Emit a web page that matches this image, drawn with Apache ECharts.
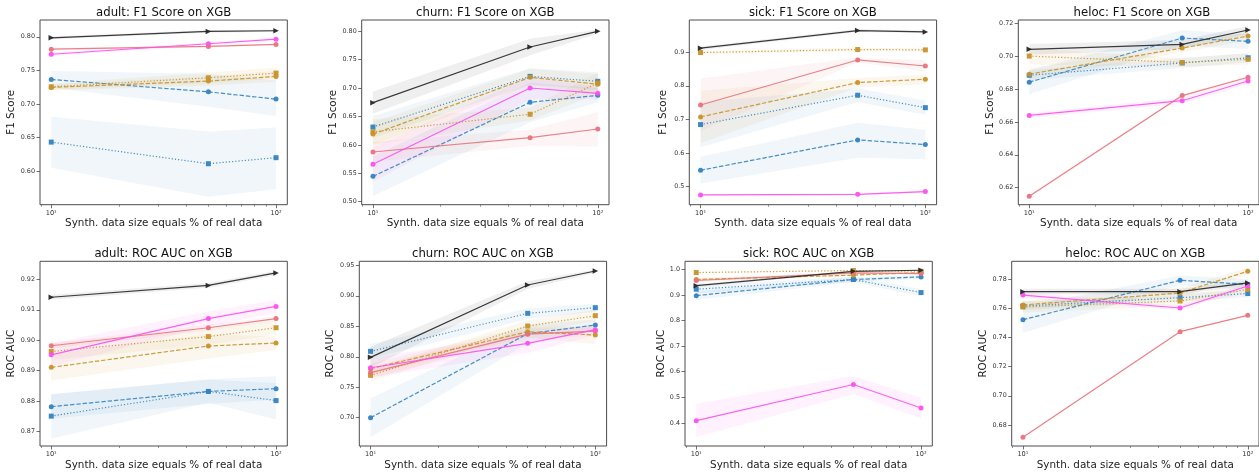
<!DOCTYPE html>
<html><head><meta charset="utf-8">
<script src="https://cdn.jsdelivr.net/npm/echarts@6/dist/echarts.min.js"></script>
<style>html,body{margin:0;padding:0;background:#fff}#c{width:1259px;height:472px}</style>
</head><body><div id="c"></div>
<script>
// ---------------- DATA ----------------
const xValues = [10, 50, 100];
const xMajorTicks = [10, 100];
const xTickLabels = ['10\u00b9', '10\u00b2'];
const xMinorTicks = [9, 20, 30, 40, 50, 60, 70, 80, 90];
// series order: black(triangle), red(solid circle), magenta(solid circle),
// orange dashed(circle), orange dotted(square), blue dashed(circle), blue dotted(square)
const seriesKeys = ['black', 'red', 'magenta', 'orangeDash', 'orangeDot', 'blueDash', 'blueDot'];
const titles = ['adult: F1 Score on XGB', 'churn: F1 Score on XGB', 'sick: F1 Score on XGB', 'heloc: F1 Score on XGB',
                'adult: ROC AUC on XGB', 'churn: ROC AUC on XGB', 'sick: ROC AUC on XGB', 'heloc: ROC AUC on XGB'];
const yNames = ['F1 Score', 'F1 Score', 'F1 Score', 'F1 Score', 'ROC AUC', 'ROC AUC', 'ROC AUC', 'ROC AUC'];
const xName = 'Synth. data size equals % of real data';

const adultF1Ticks = [0.60, 0.65, 0.70, 0.75, 0.80];
const adultF1Mean = [[0.7985,0.808,0.809],[0.7816,0.7856,0.7886],[0.774,0.7896,0.7965],[0.7246,0.734,0.741],[0.7256,0.739,0.746],[0.7365,0.718,0.7072],[0.6432,0.611,0.620]];
const adultF1Lo   = [[0.7965,0.806,0.8075],[0.7795,0.784,0.787],[0.771,0.787,0.794],[0.720,0.727,0.733],[0.721,0.731,0.738],[0.724,0.696,0.682],[0.605,0.562,0.573]];
const adultF1Hi   = [[0.8005,0.810,0.8105],[0.7835,0.787,0.790],[0.777,0.792,0.799],[0.729,0.741,0.749],[0.730,0.747,0.754],[0.749,0.745,0.735],[0.681,0.659,0.665]];

const churnF1Ticks = [0.50, 0.55, 0.60, 0.65, 0.70, 0.75, 0.80];
const churnF1Mean = [[0.6744,0.7724,0.800],[0.5875,0.6127,0.628],[0.5658,0.7002,0.6908],[0.619,0.719,0.707],[0.623,0.654,0.709],[0.5446,0.675,0.6873],[0.6315,0.7207,0.712]];
const churnF1Lo   = [[0.655,0.758,0.796],[0.570,0.598,0.597],[0.535,0.680,0.680],[0.600,0.705,0.690],[0.600,0.643,0.690],[0.510,0.640,0.675],[0.612,0.706,0.697]];
const churnF1Hi   = [[0.694,0.787,0.803],[0.605,0.627,0.658],[0.596,0.720,0.702],[0.640,0.734,0.725],[0.645,0.666,0.727],[0.580,0.710,0.700],[0.651,0.735,0.728]];

const sickF1Ticks = [0.5, 0.6, 0.7, 0.8, 0.9];
const sickF1Mean = [[0.912,0.9645,0.9605],[0.743,0.877,0.859],[0.475,0.477,0.485],[0.7074,0.8097,0.8196],[0.899,0.908,0.907],[0.5486,0.639,0.625],[0.6846,0.772,0.735]];
const sickF1Lo   = [[0.907,0.960,0.957],[0.665,0.870,0.843],[0.472,0.474,0.481],[0.630,0.795,0.805],[0.894,0.903,0.902],[0.509,0.586,0.581],[0.617,0.752,0.714]];
const sickF1Hi   = [[0.917,0.969,0.964],[0.822,0.885,0.876],[0.478,0.480,0.489],[0.785,0.823,0.834],[0.904,0.913,0.912],[0.589,0.690,0.669],[0.752,0.792,0.756]];

const helocF1Ticks = [0.62, 0.64, 0.66, 0.68, 0.70, 0.72];
const helocF1Mean = [[0.7043,0.7073,0.7161],[0.6147,0.6761,0.6873],[0.664,0.673,0.685],[0.6892,0.7051,0.7124],[0.7002,0.6963,0.6982],[0.6843,0.7112,0.7092],[0.6885,0.696,0.6992]];
const helocF1Lo   = [[0.701,0.7045,0.7135],[0.614,0.6752,0.6865],[0.6625,0.671,0.683],[0.686,0.7025,0.7095],[0.695,0.6935,0.695],[0.677,0.7065,0.7045],[0.6855,0.693,0.6965]];
const helocF1Hi   = [[0.7075,0.710,0.7185],[0.6154,0.677,0.688],[0.6655,0.675,0.687],[0.6925,0.7075,0.715],[0.705,0.699,0.702],[0.6915,0.716,0.7135],[0.6915,0.699,0.702]];

const adultRocTicks = [0.87, 0.88, 0.89, 0.90, 0.91, 0.92];
const adultRocMean = [[0.9141,0.918,0.9221],[0.8982,0.9041,0.9071],[0.8952,0.9071,0.9111],[0.8911,0.8981,0.8991],[0.8963,0.9012,0.9041],[0.8782,0.8832,0.8841],[0.8751,0.8832,0.8802]];
const adultRocLo   = [[0.9133,0.9172,0.9214],[0.8972,0.9031,0.9062],[0.8915,0.9045,0.909],[0.8868,0.894,0.8968],[0.8935,0.8985,0.9018],[0.8742,0.8792,0.8805],[0.8678,0.8795,0.874]];
const adultRocHi   = [[0.9149,0.9188,0.9228],[0.8992,0.9051,0.908],[0.899,0.9095,0.9132],[0.8954,0.902,0.9012],[0.899,0.904,0.9064],[0.8822,0.8872,0.8882],[0.8824,0.887,0.886]];

const churnRocTicks = [0.70, 0.75, 0.80, 0.85, 0.90, 0.95];
const churnRocMean = [[0.799,0.9177,0.9407],[0.774,0.837,0.842],[0.782,0.822,0.8444],[0.7804,0.8411,0.8357],[0.7695,0.8504,0.8674],[0.700,0.8379,0.852],[0.8089,0.8712,0.8805]];
const churnRocLo   = [[0.782,0.911,0.938],[0.765,0.828,0.835],[0.766,0.806,0.835],[0.772,0.832,0.821],[0.760,0.840,0.858],[0.668,0.822,0.843],[0.797,0.862,0.874]];
const churnRocHi   = [[0.816,0.924,0.943],[0.783,0.846,0.849],[0.798,0.838,0.854],[0.789,0.850,0.850],[0.779,0.860,0.877],[0.732,0.853,0.861],[0.821,0.879,0.887]];

const sickRocTicks = [0.4, 0.5, 0.6, 0.7, 0.8, 0.9, 1.0];
const sickRocMean = [[0.936,0.992,0.996],[0.956,0.986,0.983],[0.409,0.550,0.4585],[0.960,0.977,0.987],[0.987,0.995,0.992],[0.897,0.960,0.970],[0.922,0.960,0.909]];
const sickRocLo   = [[0.930,0.989,0.994],[0.949,0.982,0.979],[0.344,0.513,0.417],[0.953,0.973,0.984],[0.984,0.993,0.990],[0.880,0.950,0.962],[0.905,0.950,0.895]];
const sickRocHi   = [[0.942,0.995,0.998],[0.963,0.990,0.987],[0.475,0.583,0.498],[0.967,0.981,0.990],[0.990,0.997,0.994],[0.914,0.970,0.978],[0.938,0.970,0.923]];

const helocRocTicks = [0.68, 0.70, 0.72, 0.74, 0.76, 0.78];
const helocRocMean = [[0.7713,0.7713,0.7773],[0.6716,0.7439,0.7551],[0.769,0.7601,0.7752],[0.7622,0.7704,0.7853],[0.7608,0.7649,0.7729],[0.7521,0.7791,0.7763],[0.7615,0.7672,0.770]];
const helocRocLo   = [[0.7693,0.7693,0.7755],[0.6712,0.7435,0.7547],[0.767,0.7585,0.7735],[0.7595,0.767,0.783],[0.757,0.7615,0.770],[0.743,0.7758,0.7725],[0.7585,0.7645,0.7675]];
const helocRocHi   = [[0.7733,0.7733,0.779],[0.672,0.7443,0.7555],[0.771,0.7617,0.777],[0.765,0.7738,0.7876],[0.7646,0.7683,0.7758],[0.7612,0.7824,0.780],[0.7645,0.770,0.7725]];

// ---------------- STYLE / LAYOUT ----------------
const FONT = 'DejaVu Sans';
const styles = [
  {color:'#262626', symbol:'triangle', rotate:-90, size:5.5, dash:'solid'},
  {color:'#e8737b', symbol:'circle', rotate:0, size:5, dash:'solid'},
  {color:'#fb50ef', symbol:'circle', rotate:0, size:5, dash:'solid'},
  {color:'#c7922a', symbol:'circle', rotate:0, size:5, dash:[4.4,1.9]},
  {color:'#c7922a', symbol:'rect', rotate:0, size:5, dash:[1.2,2]},
  {color:'#3483c0', symbol:'circle', rotate:0, size:5, dash:[4.4,1.9]},
  {color:'#3483c0', symbol:'rect', rotate:0, size:5, dash:[1.2,2]}
];
const drawOrder = [6, 5, 4, 3, 1, 2, 0];

const panels = [
  {mean:adultF1Mean, lo:adultF1Lo, hi:adultF1Hi, ticks:adultF1Ticks, dec:2, yMin:0.550, yMax:0.825, left:40, top:20, gap:24},
  {mean:churnF1Mean, lo:churnF1Lo, hi:churnF1Hi, ticks:churnF1Ticks, dec:2, yMin:0.4947, yMax:0.820, left:361.7, top:20, gap:23},
  {mean:sickF1Mean, lo:sickF1Lo, hi:sickF1Hi, ticks:sickF1Ticks, dec:1, yMin:0.446, yMax:0.996, left:689.3, top:20, gap:21},
  {mean:helocF1Mean, lo:helocF1Lo, hi:helocF1Hi, ticks:helocF1Ticks, dec:2, yMin:0.6096, yMax:0.7222, left:1018.3, top:20, gap:23},
  {mean:adultRocMean, lo:adultRocLo, hi:adultRocHi, ticks:adultRocTicks, dec:2, yMin:0.8653, yMax:0.9259, left:40, top:261.3, gap:24},
  {mean:churnRocMean, lo:churnRocLo, hi:churnRocHi, ticks:churnRocTicks, dec:2, yMin:0.6536, yMax:0.9566, left:359.3, top:261.3, gap:24},
  {mean:sickRocMean, lo:sickRocLo, hi:sickRocHi, ticks:sickRocTicks, dec:1, yMin:0.310, yMax:1.031, left:685, top:261.3, gap:19},
  {mean:helocRocMean, lo:helocRocLo, hi:helocRocHi, ticks:helocRocTicks, dec:2, yMin:0.6656, yMax:0.7921, left:1011.7, top:261.3, gap:23}
];
const W = 247.3, H = 184.7;
const XMIN = Math.pow(10, 0.95), XMAX = Math.pow(10, 2.05);

const grid = [], xAxis = [], yAxis = [], series = [], graphic = [];
panels.forEach((p, i) => {
  grid.push({left:p.left, top:p.top, width:W, height:H, show:true, borderColor:'#4d4d4d', borderWidth:1, backgroundColor:'rgba(0,0,0,0)', containLabel:false});
  xAxis.push({
    type:'log', logBase:10, gridIndex:i, min:XMIN, max:XMAX, position:'bottom',
    axisLine:{show:false}, splitLine:{show:false},
    axisTick:{show:true, length:3.5, customValues:xMajorTicks, lineStyle:{color:'#4d4d4d', width:0.8}},
    axisLabel:{show:true, customValues:xMajorTicks, margin:5, fontFamily:FONT, fontSize:6.6, color:'#333',
      formatter:(v) => xTickLabels[xMajorTicks.indexOf(Math.round(v))] || ''},
    name:xName, nameLocation:'middle', nameGap:14, nameTextStyle:{fontFamily:FONT, fontSize:10.4, color:'#222'}
  });
  xAxis.push({
    type:'log', logBase:10, gridIndex:i, min:XMIN, max:XMAX, position:'bottom', offset:0,
    axisLine:{show:false}, splitLine:{show:false}, axisLabel:{show:false},
    axisTick:{show:true, length:2, customValues:xMinorTicks, lineStyle:{color:'#4d4d4d', width:0.6}}
  });
  yAxis.push({
    type:'value', gridIndex:i, min:p.yMin, max:p.yMax,
    axisLine:{show:false}, splitLine:{show:false},
    axisTick:{show:true, length:3.5, customValues:p.ticks, lineStyle:{color:'#4d4d4d', width:0.8}},
    axisLabel:{show:true, customValues:p.ticks, margin:5, fontFamily:FONT, fontSize:6.4, color:'#333',
      formatter:(v) => v.toFixed(p.dec)},
    name:yNames[i], nameLocation:'middle', nameGap:p.gap, nameTextStyle:{fontFamily:FONT, fontSize:10.4, color:'#222'}
  });
  graphic.push({type:'text', x:p.left + W/2, y:p.top - 7.5, silent:true,
    style:{text:titles[i], font:'11.7px "DejaVu Sans"', fill:'#111', align:'center', verticalAlign:'middle'}});

  // confidence bands
  drawOrder.forEach((k) => {
    const lo = p.lo[k], hi = p.hi[k], col = styles[k].color;
    series.push({
      type:'custom', xAxisIndex:2*i, yAxisIndex:i, silent:true, z:1, clip:true,
      data:xValues.map((x, j) => [x, lo[j], hi[j]]),
      encode:{x:0, y:[1, 2]},
      renderItem:function(params, api) {
        if (params.dataIndex !== 0) return null;
        const pts = [];
        for (let j = 0; j < xValues.length; j++) pts.push(api.coord([xValues[j], hi[j]]));
        for (let j = xValues.length - 1; j >= 0; j--) pts.push(api.coord([xValues[j], lo[j]]));
        return {type:'polygon', shape:{points:pts}, style:{fill:col, opacity:0.075}};
      }
    });
  });
  // mean lines
  drawOrder.forEach((k) => {
    const s = styles[k];
    series.push({
      type:'line', xAxisIndex:2*i, yAxisIndex:i, silent:true, z:3,
      data:xValues.map((x, j) => [x, p.mean[k][j]]),
      symbol:s.symbol, symbolSize:s.size, symbolRotate:s.rotate, showSymbol:true,
      lineStyle:{color:s.color, width:1.2, type:s.dash, opacity:0.9},
      itemStyle:{color:s.color, opacity:0.95}
    });
  });
});

const chart = echarts.init(document.getElementById('c'), null, {renderer:'canvas'});
chart.setOption({animation:false, backgroundColor:'#fff', grid, xAxis, yAxis, series, graphic});
</script></body></html>
